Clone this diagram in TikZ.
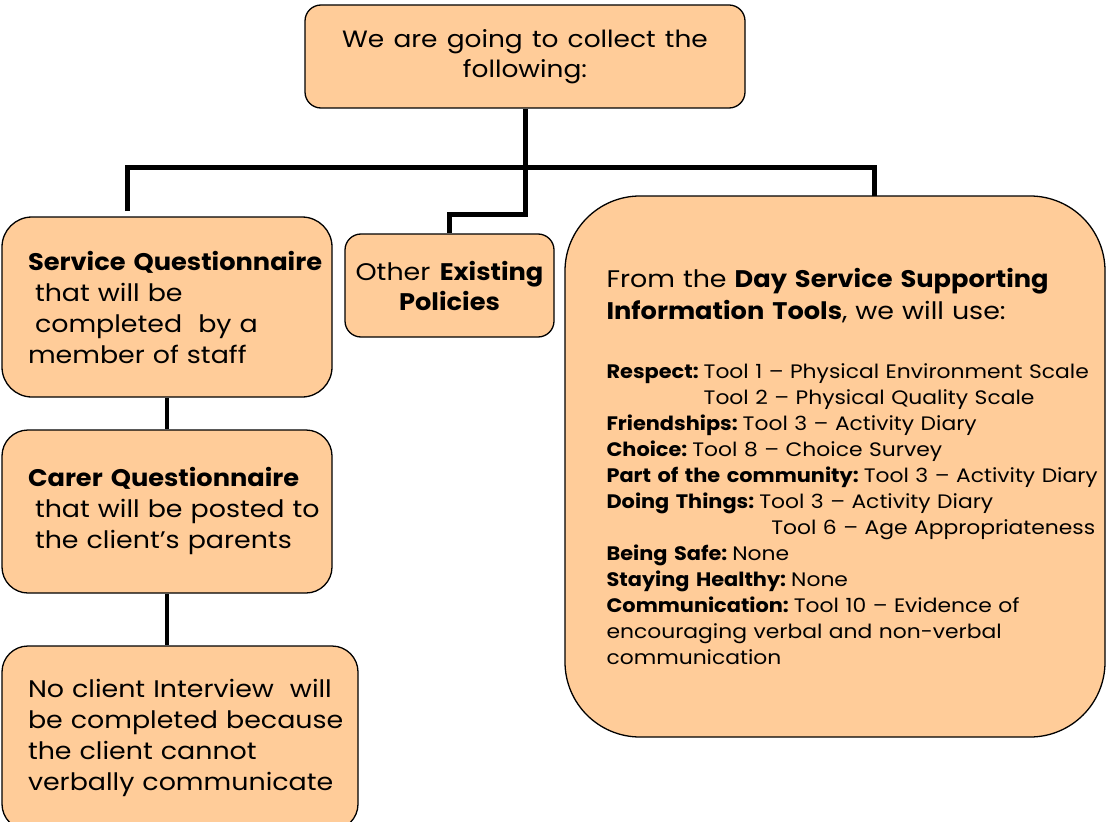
\documentclass[tikz,border=0pt]{standalone}
\usepackage{fontspec}
\setmainfont{Poppins}[FakeStretch=1.12, WordSpace=1.3, BoldFeatures={FakeStretch=1.07}]
\usetikzlibrary{positioning,calc}
\definecolor{peach}{HTML}{FFCC99}
\tikzset{
  box/.style={draw=black, line width=1.3pt, fill=peach, inner sep=0pt},
  link/.style={line width=5pt},
  txt/.style={inner sep=0pt, align=left},
}

\begin{document}
\begin{tikzpicture}[x=1pt,y=-1pt]
    \useasboundingbox (0,0) rectangle (1107,821);

    % Les boites
    \node[box, rounded corners=16pt, minimum width=440pt, minimum height=103pt,
          align=center, font=\fontsize{23.6}{30}\selectfont] (top) at (525,56.5)
          {We are going to collect the\\following:};
    \node[box, rounded corners=30pt, minimum width=330pt, minimum height=180pt,
          text width=278pt, align=left, font=\fontsize{24}{31}\selectfont] (svc) at (167,307)
          {\mbox{\textbf{Service Questionnaire}}\\ \hspace*{7pt}that will be\\ \hspace*{7pt}completed\ \ by a\\ member of staff};
    \node[box, rounded corners=26pt, minimum width=330pt, minimum height=163pt,
          text width=278pt, align=left, font=\fontsize{24}{31}\selectfont] (carer) at (167,511.5)
          {\textbf{Carer Questionnaire}\\ \mbox{\hspace*{7pt}that will be posted to}\\ \hspace*{7pt}the client’s parents};
    \node[box, rounded corners=26pt, minimum width=356pt, minimum height=184pt,
          text width=304pt, align=left, font=\fontsize{24}{31}\selectfont] (noint) at (180,738)
          {\mbox{No client Interview\ \ will}\\ \mbox{be completed because}\\ the client cannot\\ \mbox{verbally communicate}};
    \node[box, rounded corners=16pt, minimum width=209pt, minimum height=103pt,
          align=center, font=\fontsize{24}{30}\selectfont] (other) at (449.5,285.5)
          {Other \textbf{Existing}\\ \textbf{Policies}};
    \node[box, rounded corners=75pt, minimum width=540pt, minimum height=541pt] (tools) at (835,466.5) {};

    % Le texte de la grande boite
    \node[txt, text width=520pt, anchor=west] (toolstxt) at ([xshift=42pt]tools.west) {%
        \fontsize{24}{32}\selectfont\spaceskip=.3333em
        From the \textbf{Day Service Supporting}\\ \textbf{Information Tools}, we will use:\par
        \vspace{33pt}
        \fontsize{19.5}{26}\selectfont\spaceskip=.3333em
        \textbf{Respect:} Tool 1 – Physical Environment Scale\\
        \phantom{\textbf{Respect:} }Tool 2 – Physical Quality Scale\\
        \textbf{Friendships:} Tool 3 – Activity Diary\\
        \textbf{Choice:} Tool 8 – Choice Survey\\
        \textbf{Part of the community:} Tool 3 – Activity Diary\\
        \textbf{Doing Things:} Tool 3 – Activity Diary\\
        \phantom{\textbf{Doing Things:} }\hspace*{12pt}Tool 6 – Age Appropriateness\\
        \textbf{Being Safe:} None\\
        \textbf{Staying Healthy:} None\\
        \textbf{Communication:} Tool 10 – Evidence of\\
        encouraging verbal and non-verbal\\
        communication\par};

    % Les liens
    \coordinate (jog) at (525,214);
    \coordinate (svcdrop) at (127,211);
    \coordinate (toolsdrop) at (874,196);
    \draw[link] (top.south) -- (jog) -| (other.north);
    \draw[link] (svcdrop) -- (127,168) -- (874,168) -- (toolsdrop);
    \draw[link, line width=4pt] (svc.south) -- (carer.north);
    \draw[link, line width=4pt] (carer.south) -- (noint.north -| carer.south);
\end{tikzpicture}
\end{document}
